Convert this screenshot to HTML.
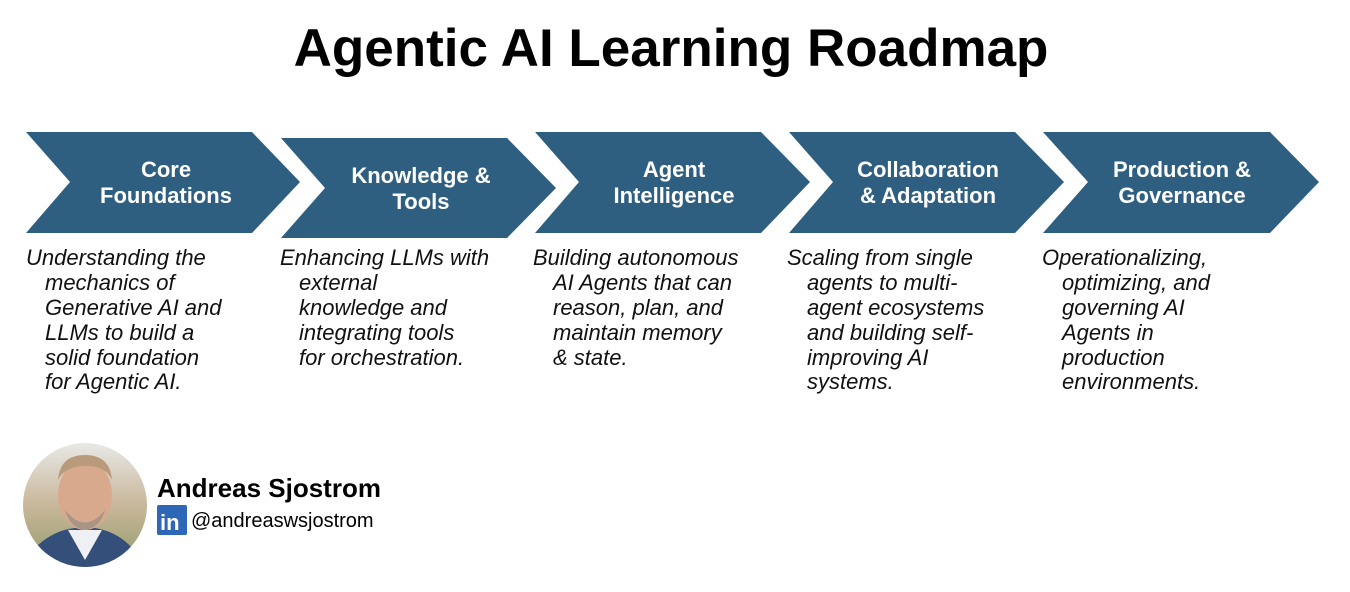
<!DOCTYPE html>
<html><head><meta charset="utf-8"><style>
html,body{margin:0;padding:0;background:#fff;}
svg{display:block}
.t{font-family:"Liberation Sans",sans-serif;}
.lab{font-family:"Liberation Sans",sans-serif;font-weight:bold;font-size:22px;fill:#fff;text-anchor:middle}
.d{font-family:"Liberation Sans",sans-serif;font-style:italic;font-size:22px;fill:#111}
</style></head><body>
<svg width="1350" height="592" viewBox="0 0 1350 592" xmlns="http://www.w3.org/2000/svg">
<text class="t" x="671" y="66" text-anchor="middle" font-size="53" font-weight="bold" fill="#000">Agentic AI Learning Roadmap</text>
<g fill="#2f5f80">
<polygon points="26,132 252,132 300,182 252,233 26,233 70,182"/>
<polygon points="281,138 507,138 556,188 507,238 281,238 325,188"/>
<polygon points="535,132 761,132 810,182 761,233 535,233 579,182"/>
<polygon points="789,132 1015,132 1064,182 1015,233 789,233 833,182"/>
<polygon points="1043,132 1270,132 1319,182 1270,233 1043,233 1088,182"/>
</g>
<text class="lab" x="166" y="177">Core</text>
<text class="lab" x="166" y="203">Foundations</text>
<text class="lab" x="421" y="183">Knowledge &amp;</text>
<text class="lab" x="421" y="209">Tools</text>
<text class="lab" x="674" y="177">Agent</text>
<text class="lab" x="674" y="203">Intelligence</text>
<text class="lab" x="928" y="177">Collaboration</text>
<text class="lab" x="928" y="203">&amp; Adaptation</text>
<text class="lab" x="1182" y="177">Production &amp;</text>
<text class="lab" x="1182" y="203">Governance</text>

<g class="d">
<text x="26" y="265">Understanding the</text>
<text x="45" y="290">mechanics of</text>
<text x="45" y="315">Generative AI and</text>
<text x="45" y="340">LLMs to build a</text>
<text x="45" y="365">solid foundation</text>
<text x="45" y="389">for Agentic AI.</text>

<text x="280" y="265">Enhancing LLMs with</text>
<text x="299" y="290">external</text>
<text x="299" y="315">knowledge and</text>
<text x="299" y="340">integrating tools</text>
<text x="299" y="365">for orchestration.</text>

<text x="533" y="265">Building autonomous</text>
<text x="553" y="290">AI Agents that can</text>
<text x="553" y="315">reason, plan, and</text>
<text x="553" y="340">maintain memory</text>
<text x="553" y="365">&amp; state.</text>

<text x="787" y="265">Scaling from single</text>
<text x="807" y="290">agents to multi-</text>
<text x="807" y="315">agent ecosystems</text>
<text x="807" y="340">and building self-</text>
<text x="807" y="365">improving AI</text>
<text x="807" y="389">systems.</text>

<text x="1042" y="265">Operationalizing,</text>
<text x="1062" y="290">optimizing, and</text>
<text x="1062" y="315">governing AI</text>
<text x="1062" y="340">Agents in</text>
<text x="1062" y="365">production</text>
<text x="1062" y="389">environments.</text>
</g>

<defs>
<clipPath id="c"><circle cx="85" cy="505" r="62"/></clipPath>
<linearGradient id="bg" x1="0" y1="0" x2="0" y2="1">
<stop offset="0" stop-color="#e9ebea"/><stop offset="0.5" stop-color="#c9b79a"/><stop offset="1" stop-color="#8f9a6a"/>
</linearGradient>
</defs>
<g clip-path="url(#c)">
<rect x="20" y="440" width="130" height="130" fill="url(#bg)"/>
<path d="M30,570 L38,545 Q55,530 75,528 L95,528 Q118,532 132,548 L140,570 Z" fill="#34507a"/>
<path d="M68,530 L85,560 L102,530 Z" fill="#eef0f3"/>
<ellipse cx="85" cy="495" rx="27" ry="35" fill="#d9a98e"/>
<path d="M58,480 Q60,455 85,455 Q110,455 112,480 Q105,465 85,466 Q65,466 58,480 Z" fill="#b99a7a"/>
<path d="M65,510 Q85,535 105,510 Q100,528 85,530 Q70,528 65,510 Z" fill="#a89585"/>
</g>
<text class="t" x="157" y="497" font-size="26" font-weight="bold" fill="#000">Andreas Sjostrom</text>
<rect x="157" y="505" width="30" height="30" rx="2" fill="#2f67b7"/>
<text class="t" x="160" y="530" font-size="22" font-weight="bold" fill="#fff">in</text>
<text class="t" x="191" y="527" font-size="20" fill="#000">@andreaswsjostrom</text>
</svg>
</body></html>
